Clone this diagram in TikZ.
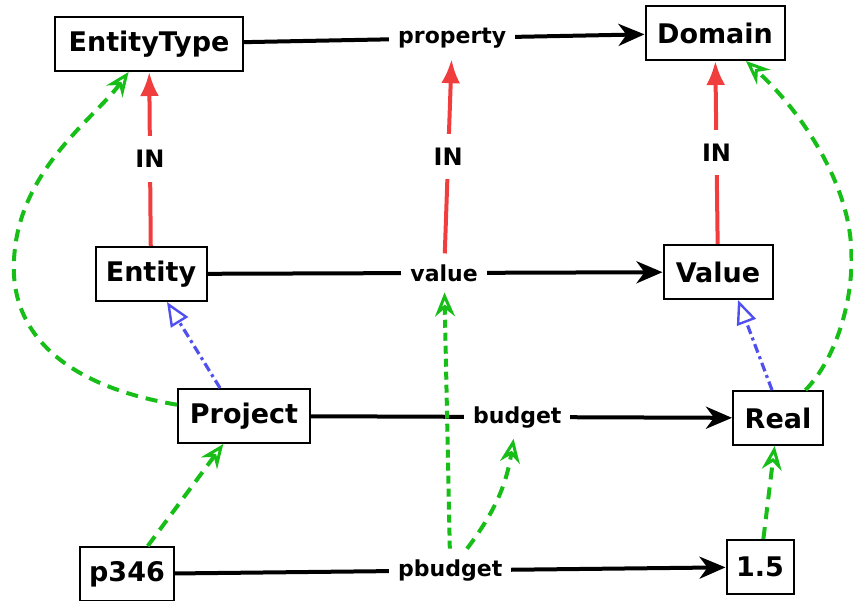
\documentclass[tikz,border=0pt]{standalone}
\usepackage{fontspec}
\setmainfont{DejaVu Sans}
\usetikzlibrary{arrows.meta}
\definecolor{inred}{RGB}{240,62,62}
\definecolor{isablue}{RGB}{80,80,240}
\definecolor{instgreen}{RGB}{24,190,24}
\tikzset{
  box/.style={draw=black, line width=2pt, fill=white, minimum height=54pt,
    inner sep=0pt, font=\fontsize{27}{30}\selectfont\bfseries},
  lbl/.style={fill=white, inner xsep=9pt, inner ysep=9pt,
    font=\fontsize{22}{24}\selectfont\bfseries},
  inlbl/.style={fill=white, inner xsep=4pt, inner ysep=14pt,
    font=\fontsize{24}{26}\selectfont\bfseries},
  rel/.style={draw=black, line width=4pt,
    -{Stealth[length=26pt, width=22pt, inset=8pt]}},
  inarrow/.style={draw=inred, line width=4pt,
    -{Latex[length=24pt, width=19pt]}},
  isa/.style={draw=isablue, line width=3.2pt, dash pattern=on 9pt off 4pt on 3pt off 4pt,
    -{Triangle[open, length=24pt, width=20pt, line width=2.4pt]}},
  inst/.style={draw=instgreen, line width=4pt, dash pattern=on 12pt off 8pt,
    -{Stealth[open, length=24pt, width=20pt, inset=8pt, line width=3pt]}},
  instd/.style={inst, dash pattern=on 8pt off 5pt},
}
\begin{document}
\begin{tikzpicture}[x=1pt, y=-1pt]
\useasboundingbox (0,0) rectangle (853,601);

% classes
\node[box, minimum width=188pt] (et)  at (149,44)  {EntityType};
\node[box, minimum width=139pt] (dom) at (715,33)  {Domain};
\node[box, minimum width=111pt] (en)  at (151,274) {Entity};
\node[box, minimum width=109pt] (val) at (718,272) {Value};
\node[box, minimum width=132pt] (pr)  at (244,416) {Project};
\node[box, minimum width=90pt]  (rl)  at (778,418) {Real};
\node[box, minimum width=94pt]  (p)   at (127,574) {p346};
\node[box, minimum width=67pt]  (num) at (760,567) {1.5};

% attribute links with their labels
\draw[rel] (et) -- node[lbl, pos=0.52] (lprop) {property} (dom);
\draw[rel] (en) -- node[lbl, pos=0.52] (lval) {value} (val);
\draw[rel] (pr) -- node[lbl, pos=0.49] (lbud) {budget} (rl);
\draw[rel] (p) -- node[lbl, pos=0.5] (lpb) {pbudget} (num);

% IN links
\draw[inarrow] (en) -- node[inlbl] {IN} (et);
\draw[inarrow] (lval) -- node[inlbl] {IN} (lprop);
\draw[inarrow] (val) -- node[inlbl] {IN} (dom);

% specialisation links
\draw[isa] ([xshift=-24pt]pr.north) -- ([xshift=16pt]en.south);
\draw[isa] ([xshift=-6pt]rl.north) -- ([xshift=20pt]val.south);

% instance-of links
\draw[inst] (pr) .. controls (60,385) and (10,330) .. (14,260)
  .. controls (18,170) and (95,118) .. (et);
\draw[inst] (rl) .. controls (835,360) and (855,300) .. (851,245)
  .. controls (847,180) and (800,110) .. (dom);
\draw[inst] (p) -- (pr);
\draw[inst] (num) -- (rl);
\draw[inst] (lpb) to[bend right=14] (lbud);
\draw[instd] (lpb) -- (lval);
\end{tikzpicture}
\end{document}
